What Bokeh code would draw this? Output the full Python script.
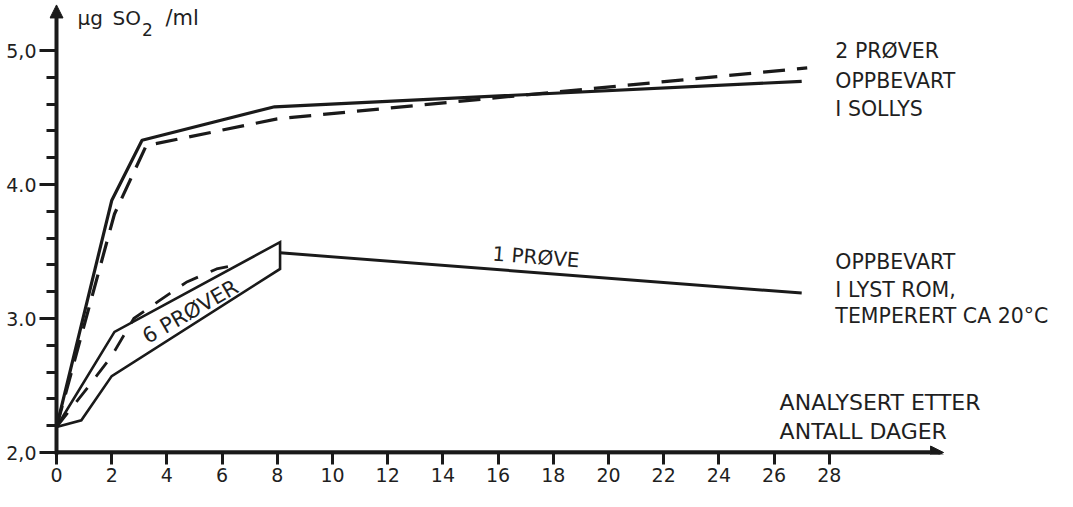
from bokeh.plotting import figure
from bokeh.models import Range1d, FixedTicker, Arrow, NormalHead
from bokeh.core.properties import value
from bokeh.embed import file_html
from bokeh.resources import INLINE

# ---------------- data ----------------
x_ticks = [0, 2, 4, 6, 8, 10, 12, 14, 16, 18, 20, 22, 24, 26, 28]
y_ticks = [2.0, 3.0, 4.0, 5.0]
y_minor = [2.2, 2.4, 2.6, 2.8, 3.2, 3.4, 3.6, 3.8, 4.2, 4.4, 4.6, 4.8]
y_labels = {2.0: "2,0", 3.0: "3.0", 4.0: "4.0", 5.0: "5,0"}

# 2 prøver oppbevart i sollys
sun_solid_days = [0, 2.0, 3.1, 7.9, 27.0]
sun_solid_vals = [2.19, 3.88, 4.33, 4.58, 4.77]
sun_dash_days = [0, 2.1, 3.25, 8.0, 27.2]
sun_dash_vals = [2.19, 3.78, 4.29, 4.49, 4.87]

# 6 prøver (band) in light room
band_days = [0, 2.1, 8.1, 8.1, 2.0, 0.9, 0]
band_vals = [2.19, 2.90, 3.57, 3.37, 2.57, 2.24, 2.19]
band_dash_days = [0, 1.0, 2.0, 2.8, 3.7, 4.7, 5.8, 6.5]
band_dash_vals = [2.19, 2.45, 2.72, 3.00, 3.13, 3.27, 3.37, 3.40]

# 1 prøve
one_days = [8.1, 27.0]
one_vals = [3.49, 3.19]

# text labels
right_t = ["2 PRØVER", "OPPBEVART", "I SOLLYS",
           "OPPBEVART", "I LYST ROM,", "TEMPERERT  CA 20°C"]
right_y = [5.0, 4.772, 4.563, 3.418, 3.209, 3.015]
xlab_t = ["ANALYSERT ETTER", "ANTALL DAGER"]
xlab_y = [2.373, 2.157]

# ---------------- layout ----------------
W, H = 1057, 491
PX_DAY = 27.6
LEFT = 49
X0 = 56
PX_VAL = 134.0
Y2 = 452
FRAME_BOTTOM = 454

x_start = -(X0 - LEFT) / PX_DAY
x_end = x_start + (W - LEFT) / PX_DAY
y_start = 2.0 - (FRAME_BOTTOM - Y2) / PX_VAL
y_end = 2.0 + Y2 / PX_VAL

INK = "#1a1a1a"
TXT = "#1f1f1f"
FONT = "DejaVu Sans"

p = figure(width=W, height=H, x_range=Range1d(x_start, x_end),
           y_range=Range1d(y_start, y_end), output_backend="svg",
           toolbar_location=None, min_border_left=LEFT, min_border_right=0,
           min_border_top=0, min_border_bottom=H - FRAME_BOTTOM)
p.title.visible = False
p.outline_line_color = None
p.background_fill_color = "white"
p.border_fill_color = "white"
p.xgrid.visible = False
p.ygrid.visible = False

p.xaxis.ticker = FixedTicker(ticks=x_ticks, minor_ticks=[])
p.yaxis.ticker = FixedTicker(ticks=y_ticks, minor_ticks=y_minor)
p.yaxis.major_label_overrides = y_labels
for ax in (p.xaxis, p.yaxis):
    ax.axis_line_color = None
    ax.major_tick_line_color = INK
    ax.major_tick_line_width = 3
    ax.minor_tick_line_color = INK
    ax.minor_tick_line_width = 3
    ax.major_label_text_font = FONT
    ax.major_label_text_font_size = "19px"
    ax.major_label_text_color = TXT
p.xaxis.major_tick_in = 2
p.xaxis.major_tick_out = 10
p.xaxis.major_label_standoff = 3
p.yaxis.major_tick_in = 7
p.yaxis.major_tick_out = 10
p.yaxis.minor_tick_in = 7
p.yaxis.minor_tick_out = 3
p.yaxis.major_label_standoff = 3

# axes with arrow heads
p.add_layout(Arrow(end=NormalHead(size=13, fill_color=INK, line_color=INK),
                   x_start=0, y_start=1.975, x_end=0, y_end=5.34,
                   line_width=4, line_color=INK))
p.add_layout(Arrow(end=NormalHead(size=13, fill_color=INK, line_color=INK),
                   x_start=0, y_start=2.0, x_end=32.14, y_end=2.0,
                   line_width=4.5, line_color=INK))

# data lines
p.line(sun_solid_days, sun_solid_vals, line_color=INK, line_width=3.2)
p.line(sun_dash_days, sun_dash_vals, line_color=INK, line_width=3.2,
       line_dash="22 12")
p.line(band_days, band_vals, line_color=INK, line_width=2.6,
       line_join="miter")
p.line(band_dash_days, band_dash_vals, line_color=INK, line_width=2.8,
       line_dash="18 14")
p.line(one_days, one_vals, line_color=INK, line_width=3)

# texts
p.text([28.22] * len(right_t), right_y, text=right_t, text_font=value(FONT),
       text_font_size="20.5px", text_color=TXT, text_baseline="middle",
       text_align="left")

p.text([26.2] * len(xlab_t), xlab_y, text=xlab_t,
       text_font=value(FONT), text_font_size="22px", text_color=TXT,
       text_baseline="middle", text_align="left")

p.text([15.8], [3.485], text=["1 PRØVE"], angle=-0.077, text_font=value(FONT),
       text_font_size="20px", text_color=TXT, text_baseline="middle",
       text_align="left")

p.text([4.85], [3.05], text=["6 PRØVER"], angle=0.52, text_font=value(FONT),
       text_font_size="21px", text_color=TXT, text_baseline="middle",
       text_align="center")

# y-axis unit label: µg SO2 /ml
p.text([0.76, 2.03], [5.239, 5.239], text=["µg", "SO"], text_font=value(FONT),
       text_font_size="20px", text_color=TXT, text_baseline="middle")
p.text([3.1], [5.153], text=["2"], text_font=value(FONT),
       text_font_size="17px", text_color=TXT, text_baseline="middle")
p.text([3.95], [5.239], text=["/ml"], text_font=value(FONT),
       text_font_size="21px", text_color=TXT, text_baseline="middle")

open("out.html", "w").write(file_html(p, INLINE))
